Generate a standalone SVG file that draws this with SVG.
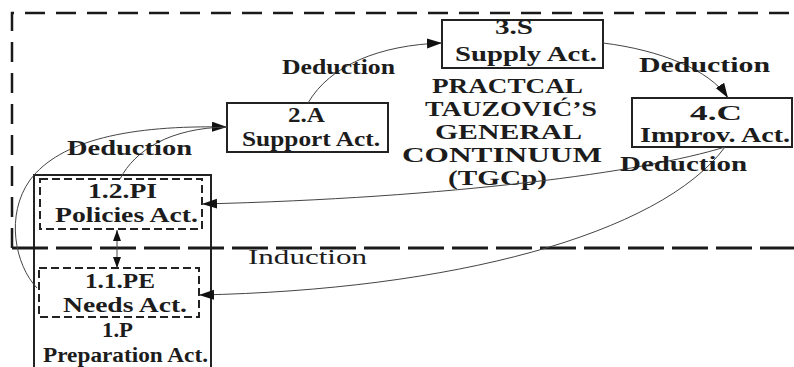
<svg xmlns="http://www.w3.org/2000/svg" width="794" height="367" viewBox="0 0 794 367">
<style>
.t{font-family:"Liberation Serif","Times New Roman",serif;font-weight:bold;fill:#1c1c1c}
.lbl{font-size:20px}
.ttl{font-size:21px}
.ind{font-weight:normal}
.box{fill:#fff;stroke:#222;stroke-width:2}
.dbox{fill:none;stroke:#222;stroke-width:2;stroke-dasharray:8 4}
.con{fill:none;stroke:#444;stroke-width:1}
.frame{fill:none;stroke:#1a1a1a;stroke-width:2.5;stroke-dasharray:20 11}
.split{fill:none;stroke:#1a1a1a;stroke-width:3;stroke-dasharray:36 8}
</style>
<defs>
<marker id="ah" markerUnits="userSpaceOnUse" markerWidth="16" markerHeight="12" refX="15" refY="5" orient="auto">
<path d="M0,0 L15,5 L0,10 Z" fill="#111"/>
</marker>
<marker id="ahs" markerUnits="userSpaceOnUse" markerWidth="12" markerHeight="10" refX="11" refY="4" orient="auto-start-reverse">
<path d="M0,0 L11,4 L0,8 Z" fill="#111"/>
</marker>
</defs>
<g id="frame">
<path class="frame" d="M12,248 L12,13 L794,13"/>
</g>
<g id="node-1P">
<rect class="box" x="34" y="175" width="177" height="200"/>
<text class="t lbl" x="102" y="337" textLength="31" lengthAdjust="spacingAndGlyphs">1.P</text>
<text class="t lbl" x="43" y="362" textLength="165" lengthAdjust="spacingAndGlyphs">Preparation Act.</text>
</g>
<g id="node-12PI">
<rect class="dbox" x="40" y="179" width="162" height="50"/>
<text class="t lbl" x="88" y="198" textLength="69" lengthAdjust="spacingAndGlyphs">1.2.PI</text>
<text class="t lbl" x="55" y="222" textLength="143" lengthAdjust="spacingAndGlyphs">Policies Act.</text>
</g>
<g id="node-11PE">
<rect class="dbox" x="39" y="268" width="160" height="49"/>
<text class="t lbl" x="85" y="288" textLength="70" lengthAdjust="spacingAndGlyphs">1.1.PE</text>
<text class="t lbl" x="63" y="312" textLength="124" lengthAdjust="spacingAndGlyphs">Needs Act.</text>
</g>
<g id="split">
<path class="split" d="M12,248 L794,248"/>
</g>
<g id="node-2A">
<rect class="box" x="227" y="103" width="161" height="49"/>
<text class="t lbl" x="288" y="122" textLength="37" lengthAdjust="spacingAndGlyphs">2.A</text>
<text class="t lbl" x="242" y="146" textLength="138" lengthAdjust="spacingAndGlyphs">Support Act.</text>
</g>
<g id="node-3S">
<rect class="box" x="442" y="20" width="161" height="48"/>
<text class="t lbl" x="495" y="34" textLength="38" lengthAdjust="spacingAndGlyphs">3.S</text>
<text class="t lbl" x="455" y="61" textLength="142" lengthAdjust="spacingAndGlyphs">Supply Act.</text>
</g>
<g id="node-4C">
<rect class="box" x="632" y="98" width="160" height="49"/>
<text class="t lbl" x="690" y="120" textLength="52" lengthAdjust="spacingAndGlyphs">4.C</text>
<text class="t lbl" x="640" y="142" textLength="150" lengthAdjust="spacingAndGlyphs">Improv. Act.</text>
</g>
<g id="title">
<text class="t ttl" x="432" y="93" textLength="151" lengthAdjust="spacingAndGlyphs">PRACTCAL</text>
<text class="t ttl" x="425" y="116" textLength="172" lengthAdjust="spacingAndGlyphs">TAUZOVIĆ’S</text>
<text class="t ttl" x="435" y="139" textLength="147" lengthAdjust="spacingAndGlyphs">GENERAL</text>
<text class="t ttl" x="402" y="162" textLength="200" lengthAdjust="spacingAndGlyphs">CONTINUUM</text>
<text class="t ttl" x="448" y="185" textLength="99" lengthAdjust="spacingAndGlyphs">(TGCp)</text>
</g>
<g id="connectors">
<path class="con" d="M37,288 C15,265 5,215 30,180 C60,140 130,125 227,127" marker-end="url(#ah)"/>
<path class="con" d="M120,179 C135,150 170,128 227,127"/>
<path class="con" d="M308,103 C330,65 380,45 442,43" marker-end="url(#ah)"/>
<path class="con" d="M603,43 C660,50 710,70 728,98" marker-end="url(#ah)"/>
<path class="con" d="M725,147 C645,172 450,198 202,204" marker-end="url(#ah)"/>
<path class="con" d="M725,147 C660,235 450,290 199,295" marker-end="url(#ah)"/>
<path class="con" d="M117,230 L117,268" stroke="#222" marker-start="url(#ahs)" marker-end="url(#ahs)"/>
</g>
<g id="labels">
<text class="t lbl" x="282" y="74" textLength="113" lengthAdjust="spacingAndGlyphs">Deduction</text>
<text class="t lbl" x="67" y="155" textLength="125" lengthAdjust="spacingAndGlyphs">Deduction</text>
<text class="t lbl" x="639" y="72" textLength="131" lengthAdjust="spacingAndGlyphs">Deduction</text>
<text class="t lbl" x="620" y="171" textLength="127" lengthAdjust="spacingAndGlyphs">Deduction</text>
<text class="t lbl ind" x="248" y="264" textLength="119" lengthAdjust="spacingAndGlyphs">Induction</text>
</g>
</svg>
